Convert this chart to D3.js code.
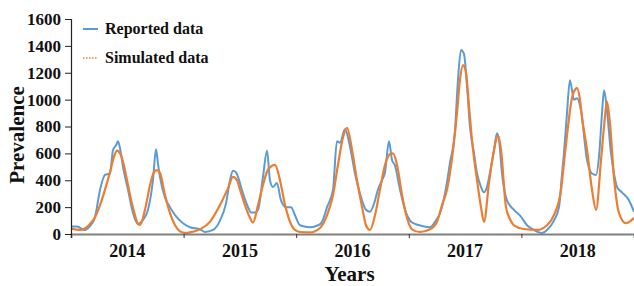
<!DOCTYPE html>
<html>
<head>
<meta charset="utf-8">
<script src="https://cdn.jsdelivr.net/npm/d3@7"></script>
<style>
  body { margin: 0; background: #fff; }
  svg text { font-family: "Liberation Serif", "Times New Roman", serif; font-weight: bold; fill: #111; }
</style>
</head>
<body>
<svg id="chart"></svg>
<script>
// Data (decimal year, prevalence)
const years = [2014, 2015, 2016, 2017, 2018];
const yTicks = [0, 200, 400, 600, 800, 1000, 1200, 1400, 1600];

const reported = [
  [2014.000, 55], [2014.053, 55], [2014.124, 30], [2014.169, 60], [2014.213, 125],
  [2014.258, 330], [2014.302, 440], [2014.346, 450], [2014.373, 625], [2014.400, 660],
  [2014.417, 690], [2014.435, 640], [2014.462, 500], [2014.506, 330], [2014.551, 155],
  [2014.595, 75], [2014.639, 105], [2014.684, 180], [2014.728, 400], [2014.755, 630],
  [2014.773, 520], [2014.790, 425], [2014.835, 270], [2014.879, 200], [2014.924, 140],
  [2014.995, 80], [2015.057, 50], [2015.146, 35], [2015.190, 15], [2015.261, 30],
  [2015.323, 100], [2015.377, 230], [2015.412, 400], [2015.439, 470], [2015.465, 460],
  [2015.483, 425], [2015.528, 300], [2015.572, 200], [2015.599, 160], [2015.634, 160],
  [2015.661, 180], [2015.705, 425], [2015.741, 620], [2015.767, 400], [2015.794, 350],
  [2015.829, 380], [2015.865, 250], [2015.909, 200], [2015.954, 200], [2015.989, 140],
  [2016.034, 65], [2016.123, 50], [2016.194, 65], [2016.229, 90], [2016.274, 200],
  [2016.327, 330], [2016.362, 690], [2016.389, 680], [2016.433, 780], [2016.478, 650],
  [2016.522, 450], [2016.567, 300], [2016.620, 180], [2016.655, 165], [2016.700, 250],
  [2016.726, 330], [2016.762, 400], [2016.789, 460], [2016.824, 690], [2016.851, 550],
  [2016.877, 510], [2016.922, 330], [2016.966, 180], [2017.011, 100], [2017.055, 75],
  [2017.117, 60], [2017.188, 50], [2017.233, 90], [2017.277, 155], [2017.321, 300],
  [2017.366, 530], [2017.410, 770], [2017.437, 1150], [2017.464, 1370], [2017.490, 1340],
  [2017.517, 1100], [2017.543, 800], [2017.579, 600], [2017.606, 450], [2017.641, 350],
  [2017.668, 310], [2017.694, 350], [2017.730, 500], [2017.757, 625], [2017.783, 750],
  [2017.801, 700], [2017.828, 450], [2017.872, 250], [2017.934, 180], [2017.996, 130],
  [2018.050, 65], [2018.112, 30], [2018.183, 8], [2018.227, 30], [2018.289, 100],
  [2018.334, 200], [2018.361, 450], [2018.378, 600], [2018.405, 900], [2018.431, 1145],
  [2018.467, 1000], [2018.494, 1010], [2018.529, 920], [2018.583, 550], [2018.627, 450],
  [2018.663, 440], [2018.689, 575], [2018.716, 900], [2018.734, 1070], [2018.760, 920],
  [2018.796, 600], [2018.822, 450], [2018.849, 350], [2018.893, 310], [2018.956, 250],
  [2019.000, 165]
];

const simulated = [
  [2014.000, 40], [2014.080, 30], [2014.169, 75], [2014.213, 125], [2014.258, 215],
  [2014.302, 330], [2014.346, 460], [2014.382, 575], [2014.409, 620], [2014.453, 565],
  [2014.488, 440], [2014.524, 290], [2014.560, 165], [2014.595, 75], [2014.613, 68],
  [2014.657, 180], [2014.702, 365], [2014.737, 460], [2014.764, 475], [2014.790, 455],
  [2014.835, 290], [2014.879, 155], [2014.924, 65], [2014.968, 20], [2015.012, 8],
  [2015.057, 12], [2015.146, 35], [2015.234, 90], [2015.323, 215], [2015.394, 340],
  [2015.439, 425], [2015.474, 400], [2015.501, 330], [2015.545, 215], [2015.590, 120],
  [2015.616, 85], [2015.661, 215], [2015.705, 365], [2015.750, 480], [2015.812, 515],
  [2015.856, 400], [2015.901, 215], [2015.945, 90], [2015.989, 30], [2016.034, 15],
  [2016.123, 12], [2016.211, 45], [2016.274, 140], [2016.327, 290], [2016.371, 515],
  [2016.416, 720], [2016.451, 790], [2016.496, 625], [2016.540, 400], [2016.585, 200],
  [2016.620, 65], [2016.655, 30], [2016.700, 140], [2016.744, 330], [2016.789, 515],
  [2016.833, 595], [2016.860, 600], [2016.895, 515], [2016.940, 290], [2016.984, 120],
  [2017.028, 35], [2017.099, 15], [2017.188, 35], [2017.250, 90], [2017.295, 215],
  [2017.339, 330], [2017.393, 625], [2017.428, 900], [2017.455, 1150], [2017.481, 1257],
  [2017.508, 1200], [2017.535, 950], [2017.561, 700], [2017.606, 400], [2017.641, 200],
  [2017.668, 90], [2017.712, 380], [2017.757, 625], [2017.792, 736], [2017.819, 625],
  [2017.863, 200], [2017.899, 110], [2017.934, 65], [2018.023, 37], [2018.139, 30],
  [2018.227, 65], [2018.289, 140], [2018.352, 330], [2018.378, 530], [2018.414, 800],
  [2018.441, 975], [2018.467, 1060], [2018.494, 1085], [2018.520, 1000], [2018.538, 870],
  [2018.583, 625], [2018.627, 330], [2018.663, 180], [2018.707, 550], [2018.734, 800],
  [2018.760, 985], [2018.787, 820], [2018.822, 425], [2018.867, 155], [2018.929, 80],
  [2018.973, 100], [2019.000, 120]
];

const width = 634, height = 286;
const margin = { top: 19, right: 0, bottom: 52, left: 71 };

const svg = d3.select('#chart').attr('width', width).attr('height', height);

const x = d3.scaleLinear()
  .domain([2014, 2019])
  .range([margin.left, width - margin.right]);
const y = d3.scaleLinear()
  .domain([0, 1600])
  .range([height - margin.bottom, margin.top]);

// Lines
const line = d3.line()
  .x(d => x(d[0]))
  .y(d => y(d[1]))
  .curve(d3.curveMonotoneX);

svg.append('path')
  .datum(reported)
  .attr('fill', 'none')
  .attr('stroke', '#5B9BD5')
  .attr('stroke-width', 2)
  .attr('stroke-linejoin', 'round')
  .attr('d', line);

svg.append('path')
  .datum(simulated)
  .attr('fill', 'none')
  .attr('stroke', '#ED7D31')
  .attr('stroke-width', 2.2)
  .attr('stroke-linejoin', 'round')
  .attr('d', line);

// X axis: ticks at year boundaries, labels mid-year
const xAxis = svg.append('g')
  .attr('transform', `translate(0,${y(0)})`)
  .call(d3.axisBottom(x).tickValues(d3.range(2014, 2020)).tickSize(4).tickFormat(''));
xAxis.select('.domain').attr('stroke', '#808080').attr('stroke-width', 2);
xAxis.selectAll('.tick line').attr('stroke', '#333');

svg.append('g').selectAll('text')
  .data(years)
  .join('text')
  .attr('x', d => x(d + 0.5))
  .attr('y', 257)
  .attr('text-anchor', 'middle')
  .attr('font-size', 18)
  .text(d => d);

// Y axis
const yAxis = svg.append('g')
  .attr('transform', `translate(${margin.left},0)`)
  .call(d3.axisLeft(y).tickValues(yTicks).tickSize(6).tickPadding(4).tickFormat(d3.format('d')));
yAxis.select('.domain').attr('stroke', '#222').attr('stroke-width', 1.2);
yAxis.selectAll('.tick line').attr('stroke', '#222');
yAxis.selectAll('.tick text')
  .attr('font-size', 17)
  .attr('font-family', '"Liberation Serif", serif')
  .attr('font-weight', 'bold')
  .attr('fill', '#111');

// Axis titles
svg.append('text')
  .attr('x', x(2016.5) - 3)
  .attr('y', 281)
  .attr('text-anchor', 'middle')
  .attr('font-size', 21)
  .text('Years');

svg.append('text')
  .attr('transform', `translate(24,135) rotate(-90)`)
  .attr('text-anchor', 'middle')
  .attr('font-size', 21)
  .text('Prevalence');

// Legend
const legend = svg.append('g').attr('transform', 'translate(83,0)');
const legendItems = [
  { label: 'Reported data', color: '#5B9BD5', dash: null, yPos: 29 },
  { label: 'Simulated data', color: '#ED7D31', dash: '1.5,1.5', yPos: 58 }
];
legendItems.forEach(item => {
  legend.append('line')
    .attr('x1', 0).attr('x2', 15)
    .attr('y1', item.yPos).attr('y2', item.yPos)
    .attr('stroke', item.color)
    .attr('stroke-width', item.dash ? 1.5 : 2)
    .attr('stroke-dasharray', item.dash);
  legend.append('text')
    .attr('x', 22)
    .attr('y', item.yPos + 5)
    .attr('font-size', 16)
    .text(item.label);
});
</script>
</body>
</html>
